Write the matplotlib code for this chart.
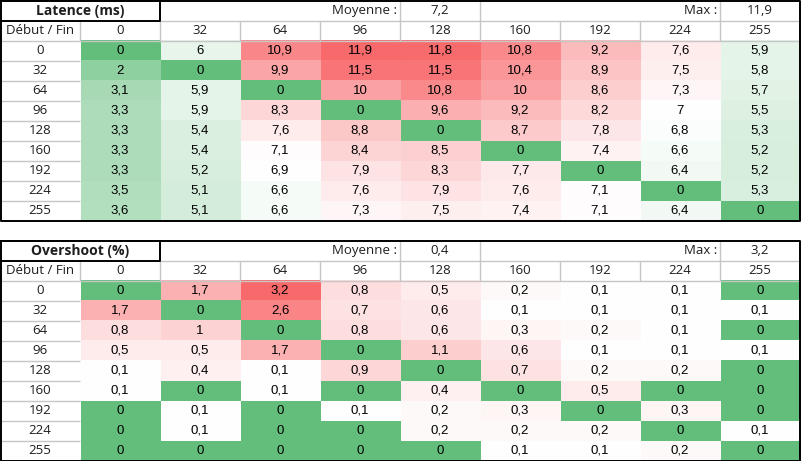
import numpy as np
import matplotlib
matplotlib.use("Agg")
import matplotlib.pyplot as plt
from matplotlib.colors import LinearSegmentedColormap, TwoSlopeNorm

levels = [0, 32, 64, 96, 128, 160, 192, 224, 255]

latency = [
    [0, 6, 10.9, 11.9, 11.8, 10.8, 9.2, 7.6, 5.9],
    [2, 0, 9.9, 11.5, 11.5, 10.4, 8.9, 7.5, 5.8],
    [3.1, 5.9, 0, 10, 10.8, 10, 8.6, 7.3, 5.7],
    [3.3, 5.9, 8.3, 0, 9.6, 9.2, 8.2, 7, 5.5],
    [3.3, 5.4, 7.6, 8.8, 0, 8.7, 7.8, 6.8, 5.3],
    [3.3, 5.4, 7.1, 8.4, 8.5, 0, 7.4, 6.6, 5.2],
    [3.3, 5.2, 6.9, 7.9, 8.3, 7.7, 0, 6.4, 5.2],
    [3.5, 5.1, 6.6, 7.6, 7.9, 7.6, 7.1, 0, 5.3],
    [3.6, 5.1, 6.6, 7.3, 7.5, 7.4, 7.1, 6.4, 0],
]
overshoot = [
    [0, 1.7, 3.2, 0.8, 0.5, 0.2, 0.1, 0.1, 0],
    [1.7, 0, 2.6, 0.7, 0.6, 0.1, 0.1, 0.1, 0.1],
    [0.8, 1, 0, 0.8, 0.6, 0.3, 0.2, 0.1, 0],
    [0.5, 0.5, 1.7, 0, 1.1, 0.6, 0.1, 0.1, 0.1],
    [0.1, 0.4, 0.1, 0.9, 0, 0.7, 0.2, 0.2, 0],
    [0.1, 0, 0.1, 0, 0.4, 0, 0.5, 0, 0],
    [0, 0.1, 0, 0.1, 0.2, 0.3, 0, 0.3, 0],
    [0, 0.1, 0, 0, 0.2, 0.2, 0.2, 0, 0.1],
    [0, 0, 0, 0, 0, 0.1, 0.1, 0.2, 0],
]
latency_mean, latency_max = 7.2, 11.9
overshoot_mean, overshoot_max = 0.4, 3.2

cmap = LinearSegmentedColormap.from_list(
    "gwr", ["#63be7b", "#ffffff", "#f8696b"])

HEAD_FONT = ["Open Sans", "DejaVu Sans"]
DATA_FONT = ["Liberation Sans", "DejaVu Sans"]
TXT = "#1e1e1e"
GRID = "#c6c6c6"


def fmt(v):
    return f"{v:g}".replace(".", ",")


fig = plt.figure(figsize=(8.01, 4.61), dpi=100)
ax = fig.add_axes([0, 0, 1, 1])
ax.set_xlim(0, 801)
ax.set_ylim(461, 0)
ax.axis("off")

CW, RH = 80, 20
X0, X1 = 0.5, 800


def draw_table(y0, title, data, mean, mx):
    arr = np.array(data, dtype=float)
    n = len(levels)
    norm = TwoSlopeNorm(vmin=arr.min(), vcenter=np.median(arr), vmax=arr.max())
    top = y0 + 2 * RH
    bot = top + n * RH
    ax.imshow(arr, cmap=cmap, norm=norm, extent=(X0 + CW, X1, bot, top),
              aspect="auto", interpolation="nearest", zorder=1)
    # gray grid lines
    ax.hlines(y0 + RH, 2 * CW, X1, color=GRID, lw=1, zorder=2)
    ax.hlines(top, X0, X1, color=GRID, lw=1, zorder=2)
    for i in range(1, n):
        ax.hlines(top + i * RH, X0, CW, color=GRID, lw=1, zorder=2)
    for j in range(1, n + 1):
        ax.vlines(j * CW, y0 + RH, top, color=GRID, lw=1, zorder=2)
    for xv in (5 * CW, 6 * CW, 9 * CW):
        ax.vlines(xv, y0, y0 + RH, color=GRID, lw=1, zorder=2)
    # black borders
    ax.plot([X0, X1, X1, X0, X0], [y0, y0, bot, bot, y0], color="black", lw=1.4, zorder=3)
    ax.plot([X0, 2 * CW, 2 * CW, X0], [y0 + RH, y0 + RH, y0, y0], color="black", lw=1.4, zorder=3)
    # title row texts
    ax.text(CW, y0 + RH / 2, title, ha="center", va="center", fontsize=10,
            fontweight="bold", family=HEAD_FONT, color=TXT, zorder=4)
    ax.text(5 * CW - 3, y0 + RH / 2, "Moyenne :", ha="right", va="center",
            fontsize=9.5, family=HEAD_FONT, color=TXT, zorder=4)
    ax.text(5.5 * CW, y0 + RH / 2, fmt(mean), ha="center", va="center",
            fontsize=9.5, family=HEAD_FONT, color=TXT, zorder=4)
    ax.text(9 * CW - 3, y0 + RH / 2, "Max :", ha="right", va="center",
            fontsize=9.5, family=HEAD_FONT, color=TXT, zorder=4)
    ax.text(9.5 * CW, y0 + RH / 2, fmt(mx), ha="center", va="center",
            fontsize=9.5, family=HEAD_FONT, color=TXT, zorder=4)
    # header row
    ax.text(CW / 2, y0 + 1.5 * RH, "Début / Fin", ha="center", va="center",
            fontsize=9.5, family=HEAD_FONT, color=TXT, zorder=4)
    for j, lv in enumerate(levels):
        ax.text((j + 1.5) * CW, y0 + 1.5 * RH, str(lv), ha="center", va="center",
                fontsize=9.5, family=HEAD_FONT, color=TXT, zorder=4)
    # rows
    for i, lv in enumerate(levels):
        yc = top + (i + 0.5) * RH
        ax.text(CW / 2, yc, str(lv), ha="center", va="center",
                fontsize=9.5, family=HEAD_FONT, color=TXT, zorder=4)
        for j in range(n):
            ax.text((j + 1.5) * CW, yc, fmt(arr[i, j]), ha="center", va="center",
                    fontsize=9.5, family=DATA_FONT, color="black", zorder=4)


draw_table(0.7, "Latence (ms)", latency, latency_mean, latency_max)
draw_table(240.5, "Overshoot (%)", overshoot, overshoot_mean, overshoot_max)

fig.savefig("out.png", dpi=100, facecolor="white")
